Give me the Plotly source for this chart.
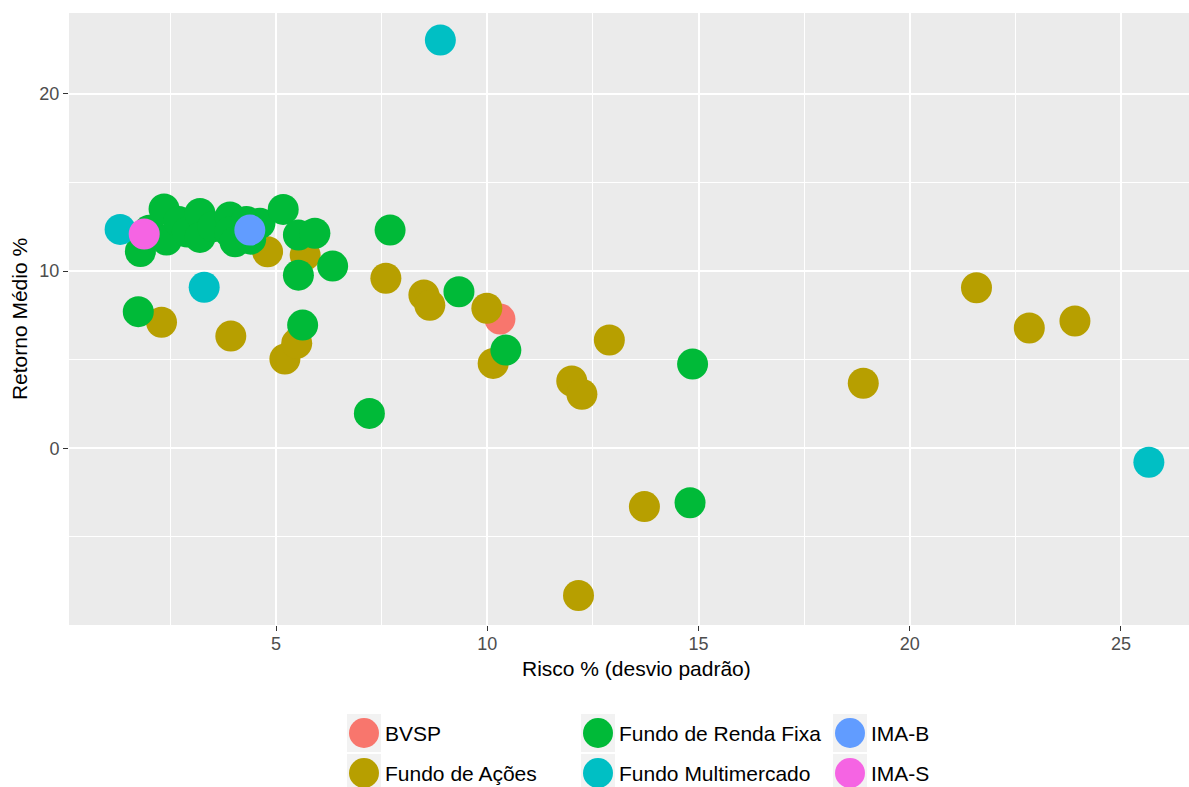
import plotly.graph_objects as go

# ---- data (risk %, mean return %) ----
series_names = ["BVSP", "Fundo de Ações", "Fundo de Renda Fixa",
                "Fundo Multimercado", "IMA-B", "IMA-S"]
series_colors = ["#F8766D", "#B79F00", "#00BA38", "#00BFC4", "#619CFF", "#F564E3"]

bvsp_x = [10.30]
bvsp_y = [7.29]

acoes_x = [4.80, 5.69, 7.60, 8.50, 8.64, 9.99, 10.14, 2.29, 3.93, 5.21, 5.49,
           12.89, 12.00, 12.24, 13.72, 12.16, 21.58, 22.83, 23.91, 18.90]
acoes_y = [11.09, 10.90, 9.59, 8.65, 8.07, 7.90, 4.79, 7.11, 6.33, 5.04, 5.92,
           6.11, 3.80, 3.05, -3.29, -8.31, 9.06, 6.79, 7.18, 3.67]

renda_x = [1.79, 2.00, 2.35, 2.41, 2.70, 2.90, 3.20, 3.20, 3.50, 3.91, 3.90,
           4.03, 4.30, 4.62, 4.40, 5.17, 5.53, 5.92, 5.53, 6.34, 7.70, 1.74,
           5.63, 7.21, 9.33, 10.44, 14.86, 14.80]
renda_y = [11.10, 12.30, 13.50, 11.75, 12.80, 12.20, 13.25, 11.90, 12.50, 13.05,
           12.20, 11.65, 12.80, 12.70, 11.80, 13.48, 12.03, 12.13, 9.77, 10.28,
           12.31, 7.71, 6.95, 1.97, 8.83, 5.54, 4.75, -3.07]

multi_x = [8.89, 1.31, 3.30, 25.66]
multi_y = [23.03, 12.35, 9.08, -0.79]

imab_x = [4.38]
imab_y = [12.31]

imas_x = [1.88]
imas_y = [12.09]

x_ticks = [5, 10, 15, 20, 25]
y_ticks = [0, 10, 20]

xs = [bvsp_x, acoes_x, renda_x, multi_x, imab_x, imas_x]
ys = [bvsp_y, acoes_y, renda_y, multi_y, imab_y, imas_y]

FONT = "Liberation Sans, Arial, sans-serif"

fig = go.Figure()
for name, color, x, y in zip(series_names, series_colors, xs, ys):
    fig.add_trace(go.Scatter(
        x=x, y=y, mode="markers", name=name, showlegend=False,
        marker=dict(size=31, color=color, line=dict(width=0)),
    ))

W, H = 1189, 787
L, R, T, B = 69, 0, 13, 162

fig.update_layout(
    width=W, height=H,
    margin=dict(l=L, r=R, t=T, b=B, autoexpand=False),
    paper_bgcolor="white",
    plot_bgcolor="#EBEBEB",
    font=dict(family=FONT, color="black"),
    xaxis=dict(
        range=[0.10, 26.61],
        tickvals=x_ticks,
        ticktext=[str(v) for v in x_ticks],
        showgrid=True, gridcolor="white", gridwidth=2,
        minor=dict(tickvals=[2.5, 7.5, 12.5, 17.5, 22.5], showgrid=True,
                   gridcolor="white", gridwidth=1, ticks=""),
        zeroline=False, showline=False,
        ticks="outside", ticklen=5, tickcolor="#333333", tickwidth=1,
        ticklabelstandoff=-3,
        tickfont=dict(size=18, color="#4D4D4D", family=FONT),
    ),
    yaxis=dict(
        range=[-9.97, 24.56],
        tickvals=y_ticks,
        ticktext=[str(v) for v in y_ticks],
        showgrid=True, gridcolor="white", gridwidth=2,
        minor=dict(tickvals=[-5, 5, 15], showgrid=True,
                   gridcolor="white", gridwidth=1, ticks=""),
        zeroline=False, showline=False,
        ticks="outside", ticklen=5, tickcolor="#333333", tickwidth=1,
        tickfont=dict(size=18, color="#4D4D4D", family=FONT),
        title=dict(text="Retorno Médio %", font=dict(size=21, color="black"),
                   standoff=6),
    ),
)

pw = W - L - R
ph = H - T - B

def px2paper(px, py):
    return (px - L) / pw, 1 - (py - T) / ph

# x-axis title (the reference panel is cropped on the right, so its
# title sits slightly right of the visible panel centre)
ax_x, ax_y = px2paper(636, 668)
fig.add_annotation(x=ax_x, y=ax_y, xref="paper", yref="paper",
                   text="Risco % (desvio padrão)", showarrow=False,
                   xanchor="center", yanchor="middle",
                   font=dict(size=21, color="black", family=FONT))

# ---- custom legend (ggplot style: large round keys, 3 columns x 2 rows) ----
legend_order = [0, 2, 4, 1, 3, 5]  # column-major like ggplot
col_key_x = [364, 598, 850]
row_y = [733, 773]
for slot, idx in enumerate(legend_order):
    col = slot % 3
    row = slot // 3
    kx, ky = px2paper(col_key_x[col], row_y[row])
    fig.add_shape(type="rect", xref="paper", yref="paper",
                  xsizemode="pixel", ysizemode="pixel",
                  xanchor=kx, yanchor=ky, x0=-17, x1=17, y0=-19, y1=19,
                  fillcolor="#F2F2F2", line=dict(width=0), layer="above")
    fig.add_shape(type="circle", xref="paper", yref="paper",
                  xsizemode="pixel", ysizemode="pixel",
                  xanchor=kx, yanchor=ky, x0=-15, x1=15, y0=-15, y1=15,
                  fillcolor=series_colors[idx], line=dict(width=0), layer="above")
    tx, ty = px2paper(col_key_x[col] + 19, row_y[row])
    fig.add_annotation(x=tx, y=ty, xref="paper", yref="paper",
                       text=series_names[idx], showarrow=False,
                       xanchor="left", yanchor="middle",
                       font=dict(size=21, color="black", family=FONT))

fig.write_html(
    "out.html",
    config={"displayModeBar": False},
    post_script="document.body.style.margin='0';document.body.style.overflow='hidden';",
)
